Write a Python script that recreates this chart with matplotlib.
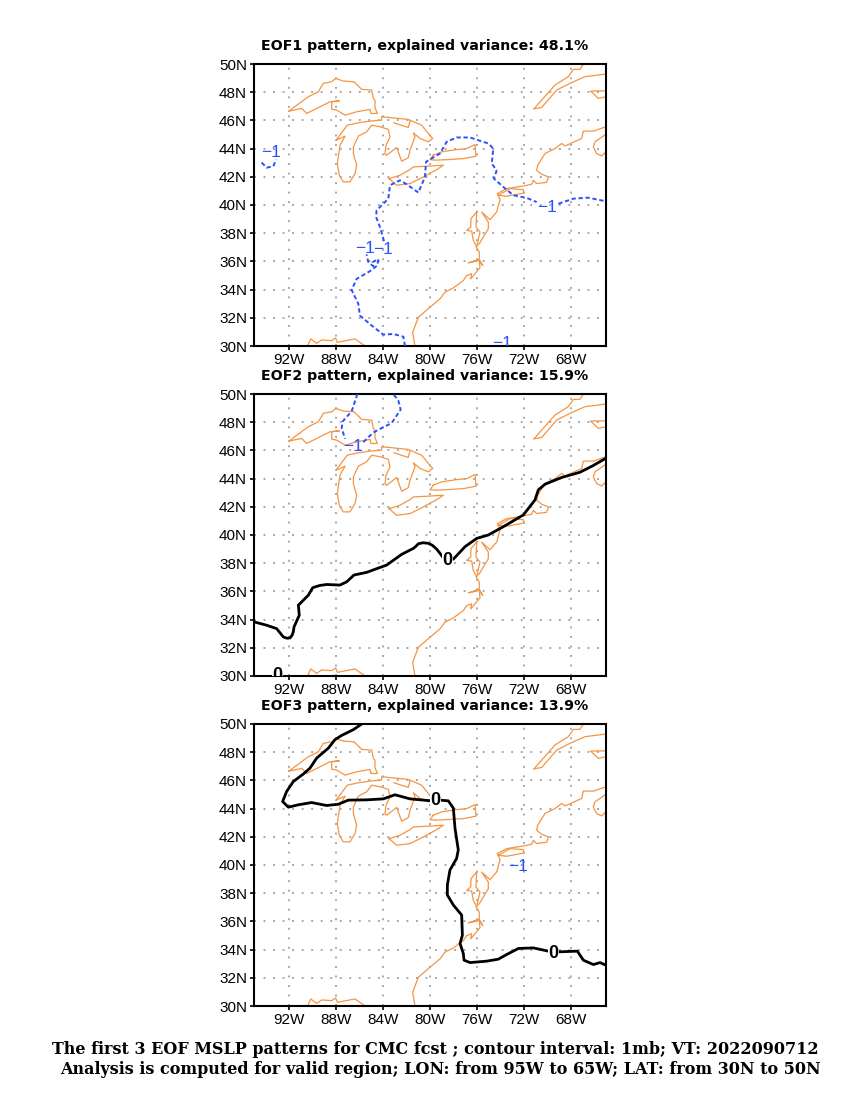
import matplotlib
matplotlib.use("Agg")
import matplotlib.pyplot as plt

superior = [(-92.02, 46.66), (-90.37, 47.68), (-89.52, 48.03), (-89.09, 48.63), (-88.38, 48.74), (-88.04, 48.98),
            (-87.39, 48.79), (-86.48, 48.74), (-85.82, 48.2), (-84.97, 48.15), (-84.83, 47.56), (-84.69, 47.44),
            (-84.69, 46.92), (-84.49, 46.49), (-85.03, 46.49), (-85.11, 46.78), (-86.25, 46.61), (-87.24, 46.37),
            (-87.95, 46.73), (-88.38, 46.8), (-88.38, 47.32), (-87.73, 47.39), (-88.52, 47.32), (-90.51, 46.49),
            (-90.94, 46.85), (-92.02, 46.66)]
michigan_huron = [(-88.01, 44.6), (-87.05, 45.66), (-86.11, 45.83), (-85.11, 45.95), (-84.12, 46.02), (-84.12, 46.26),
                  (-81.85, 46.07), (-80.71, 45.66), (-80.14, 45.07), (-79.77, 44.72), (-80.14, 44.48), (-80.85, 44.72),
                  (-81.42, 45.12), (-81.28, 44.83), (-81.7, 43.89), (-81.85, 43.36), (-82.41, 43.1), (-82.84, 44.08),
                  (-83.69, 43.53), (-83.84, 43.6), (-83.75, 44.24), (-83.41, 44.83), (-83.55, 45.36), (-84.26, 45.55),
                  (-84.97, 45.66), (-85.4, 45.19), (-86.11, 44.88), (-86.53, 44.12), (-86.53, 43.65), (-86.25, 42.82),
                  (-86.39, 42.23), (-86.82, 41.64), (-87.39, 41.64), (-87.73, 42.11), (-87.9, 42.94), (-87.67, 44.24),
                  (-87.24, 44.88), (-88.01, 44.6)]
georgian = [(-83.07, 45.83), (-81.85, 45.5), (-81.7, 45.97)]
ontario = [(-79.72, 43.53), (-79.01, 43.77), (-77.73, 43.93), (-76.87, 44.0), (-76.16, 44.29), (-76.08, 43.46),
           (-77.16, 43.29), (-78.44, 43.22), (-79.57, 43.18), (-80.0, 43.22), (-79.72, 43.53)]
erie = [(-83.49, 41.87), (-82.56, 42.11), (-81.7, 42.51), (-81.42, 42.7), (-80.28, 42.75), (-78.86, 42.82),
        (-79.43, 42.51), (-80.57, 41.99), (-81.7, 41.52), (-82.84, 41.4), (-83.49, 41.87)]
east_coast = [(-81.28, 30.0), (-81.48, 30.97), (-80.99, 32.04), (-80.0, 32.75), (-79.15, 33.34), (-78.72, 33.82),
              (-78.01, 34.12), (-77.16, 34.64), (-76.87, 35.0), (-76.45, 35.12), (-76.53, 34.76), (-75.74, 35.55),
              (-75.8, 36.07), (-76.73, 35.9), (-75.8, 36.11), (-75.51, 35.71), (-75.8, 36.11), (-75.8, 36.66),
              (-76.08, 37.06), (-75.8, 37.25), (-75.03, 38.32), (-75.03, 38.79), (-75.6, 39.5), (-74.89, 38.96),
              (-74.32, 39.5), (-74.03, 40.38), (-74.26, 40.81), (-73.47, 41.16), (-72.05, 41.35), (-71.34, 41.47),
              (-71.19, 41.75), (-70.91, 41.52), (-70.06, 41.61), (-69.91, 41.99), (-70.48, 42.18), (-70.91, 42.46),
              (-70.82, 42.82), (-70.2, 43.65), (-69.35, 44.0), (-68.78, 44.36), (-68.49, 44.19), (-67.07, 44.72),
              (-66.93, 45.24), (-66.08, 45.24), (-65.0, 45.55)]
chesapeake_w = [(-76.02, 39.5), (-76.51, 39.03), (-76.53, 38.44), (-76.87, 38.2), (-76.45, 38.15), (-76.31, 37.49),
                (-76.02, 37.06)]
chesapeake_e = [(-76.02, 39.5), (-76.08, 38.44), (-75.74, 38.08), (-75.97, 37.25)]
long_island = [(-74.18, 40.69), (-73.18, 41.16), (-72.05, 41.09), (-71.99, 40.85), (-73.47, 40.62), (-74.18, 40.69)]
st_lawrence_s = [(-71.14, 46.82), (-70.48, 46.92), (-69.2, 48.15), (-68.07, 48.63), (-66.79, 49.1), (-65.0, 49.29)]
st_lawrence_n = [(-71.14, 46.82), (-69.35, 48.51), (-68.21, 49.1), (-67.78, 49.62), (-67.22, 49.62), (-66.93, 50.0)]
chaleur = [(-65.0, 48.1), (-66.31, 48.08), (-65.65, 47.56), (-65.0, 47.68)]
nova_scotia = [(-65.0, 45.02), (-65.94, 44.48), (-66.08, 44.12), (-65.8, 43.65), (-65.37, 43.48), (-65.0, 43.77)]
gulf_coast = [(-90.43, 30.0), (-90.17, 30.5), (-89.66, 30.19), (-89.23, 30.43), (-88.38, 30.38), (-88.04, 30.57),
              (-87.9, 30.26), (-86.39, 30.5), (-85.54, 30.0)]
coast_lines = [superior, michigan_huron, georgian, ontario, erie, east_coast, chesapeake_w, chesapeake_e, long_island,
               st_lawrence_s, st_lawrence_n, chaleur, nova_scotia, gulf_coast]

eof1_a = [(-82.13, 30.0), (-82.27, 30.66), (-83.12, 30.85), (-83.98, 30.81), (-84.97, 31.45), (-85.97, 32.16),
          (-86.11, 32.99), (-86.68, 33.98), (-86.25, 34.76), (-85.11, 35.31), (-84.49, 35.71), (-84.4, 36.16),
          (-84.89, 35.95), (-84.83, 35.66), (-85.26, 35.95), (-85.4, 36.49)]
eof1_b = [(-83.92, 37.44), (-84.26, 38.44), (-84.6, 39.15), (-84.55, 39.62), (-83.55, 40.45), (-83.41, 41.4),
          (-82.56, 41.75), (-81.99, 41.47), (-80.99, 40.88), (-80.43, 41.99), (-80.34, 43.06), (-79.15, 43.65),
          (-78.58, 44.48), (-77.73, 44.79), (-76.59, 44.79), (-75.03, 44.36), (-74.6, 44.0), (-74.74, 42.94),
          (-74.32, 42.46), (-74.55, 41.87), (-73.75, 41.28), (-72.9, 40.69), (-71.76, 40.5), (-70.91, 40.21)]
eof1_c = [(-69.06, 40.09), (-67.78, 40.45), (-66.51, 40.52), (-65.0, 40.26)]
eof1_d = [(-94.35, 43.01), (-93.92, 42.65), (-93.35, 42.75), (-93.12, 43.22)]
eof2_a = [(-86.19, 50.0), (-86.68, 48.77), (-87.44, 48.06), (-87.53, 47.58), (-87.24, 46.82)]
eof2_b = [(-85.68, 46.59), (-84.83, 47.27), (-84.12, 47.58), (-83.27, 47.94), (-82.5, 48.89), (-82.7, 49.53),
          (-83.12, 50.0)]
eof2_zero = [(-95.0, 33.84), (-93.92, 33.6), (-93.07, 33.36), (-92.8, 33.08), (-92.5, 32.77), (-92.2, 32.68),
             (-91.93, 32.7), (-91.75, 32.9), (-91.65, 33.13), (-91.59, 33.48), (-91.14, 34.31), (-91.22, 35.02),
             (-90.37, 35.73), (-90.0, 36.26), (-89.4, 36.42), (-88.81, 36.49), (-87.67, 36.45), (-87.1, 36.68),
             (-86.48, 37.16), (-85.4, 37.35), (-83.69, 37.87), (-82.41, 38.63), (-81.42, 39.05), (-81.2, 39.2),
             (-80.99, 39.38), (-80.6, 39.45), (-80.14, 39.41), (-79.8, 39.27), (-79.43, 39.0), (-79.1, 38.65),
             (-78.81, 38.3), (-78.01, 38.29), (-77.6, 38.65), (-77.02, 39.17), (-76.02, 39.76), (-75.03, 40.0),
             (-73.75, 40.59), (-72.05, 41.42), (-71.05, 42.49), (-70.77, 43.2), (-70.2, 43.6), (-68.78, 44.08),
             (-67.22, 44.45), (-66.08, 44.93), (-65.0, 45.45)]
eof3_zero = [(-85.82, 50.0), (-86.53, 49.6), (-87.53, 49.19), (-88.1, 48.89), (-88.66, 48.29), (-89.66, 47.58),
             (-90.23, 46.87), (-90.8, 46.45), (-91.65, 45.92), (-92.22, 45.21), (-92.56, 44.5), (-92.07, 44.1),
             (-91.22, 44.27), (-90.09, 44.43), (-88.81, 44.22), (-87.81, 44.31), (-86.96, 44.6), (-85.4, 44.62),
             (-83.98, 44.69), (-82.98, 44.98), (-81.7, 44.69), (-79.86, 44.55), (-79.15, 44.6), (-78.44, 44.55),
             (-78.01, 44.03), (-77.87, 42.61), (-77.59, 41.07), (-77.73, 40.47), (-78.3, 39.64), (-78.52, 38.58),
             (-78.52, 37.87), (-78.01, 37.16), (-77.3, 36.45), (-77.24, 35.02), (-77.44, 34.43), (-77.16, 33.72),
             (-77.1, 33.25), (-76.59, 33.08), (-75.17, 33.18), (-74.18, 33.32), (-73.47, 33.65), (-72.47, 34.08),
             (-71.19, 34.12), (-69.91, 33.89), (-69.06, 33.84), (-67.44, 33.89), (-66.93, 33.25), (-66.08, 32.94),
             (-65.51, 33.08), (-65.0, 32.89)]

titles = ["EOF1 pattern, explained variance: 48.1%",
          "EOF2 pattern, explained variance: 15.9%",
          "EOF3 pattern, explained variance: 13.9%"]
neg_lines = [[eof1_a, eof1_b, eof1_c, eof1_d], [eof2_a, eof2_b], []]
zero_lines = [[], [eof2_zero], [eof3_zero]]
neg_labels = [[(-93.58, 43.7), (-85.54, 36.9), (-83.98, 36.82), (-70.06, 39.79), (-73.85, 30.2)],
              [(-86.53, 46.28)],
              [(-72.47, 39.91)]]
zero_labels = [[], [(-78.52, 38.18), (-93.01, 30.0)], [(-79.52, 44.55), (-69.49, 33.72)]]
lon_ticks = [-92, -88, -84, -80, -76, -72, -68]
lat_ticks = list(range(30, 51, 2))
foot_lines = ["The first 3 EOF MSLP patterns for CMC fcst ; contour interval: 1mb; VT: 2022090712",
              "Analysis is computed for valid region; LON: from 95W to 65W; LAT: from 30N to 50N"]

ORANGE = "#f59443"
BLUE = "#2b50ff"
W, H = 850.0, 1100.0


def draw_panel(ax, i):
    ax.set_xlim(-95, -65)
    ax.set_ylim(30, 50)
    ax.set_xticks(lon_ticks, [f"{-v}W" for v in lon_ticks])
    ax.set_yticks(lat_ticks, [f"{v}N" for v in lat_ticks])
    ax.tick_params(length=3, width=1.2, labelsize=11, pad=2, top=False, right=False)
    for lab in ax.get_xticklabels() + ax.get_yticklabels():
        lab.set_family("Liberation Sans")
    ax.grid(True, color="#a8a8a8", linewidth=1.4, linestyle=(0, (1.0, 3.9)))
    ax.set_axisbelow(True)
    for s in ax.spines.values():
        s.set_linewidth(1.5)

    for line in coast_lines:
        ax.plot(*zip(*line), color=ORANGE, lw=0.9, zorder=2)
    for line in neg_lines[i]:
        ax.plot(*zip(*line), color=BLUE, lw=1.4, linestyle=(0, (2.2, 1.4)), zorder=3)
    for line in zero_lines[i]:
        ax.plot(*zip(*line), color="black", lw=2.0, zorder=4)
    for x, y in neg_labels[i]:
        ax.text(x, y, "\u22121", color=BLUE, fontsize=12.5, family="Liberation Sans", ha="center", va="center",
                zorder=5, clip_on=True)
    for x, y in zero_labels[i]:
        ax.text(x, y, "0", color="black", fontsize=13, family="Liberation Sans", fontweight="bold", ha="center",
                va="center", zorder=5, clip_on=True,
                bbox=dict(facecolor="white", edgecolor="none", pad=0.2))

    ax.set_title(titles[i], x=0.486, fontsize=10.2, family="DejaVu Sans", fontweight="bold", pad=10)


fig = plt.figure(figsize=(8.5, 11), dpi=100)
tops = [64, 394, 724]
for n, top in enumerate(tops):
    ax = fig.add_axes([254 / W, 1 - (top + 282) / H, 352 / W, 282 / H])
    draw_panel(ax, n)

fig.text(435.5 / W, 1 - 1050 / H, foot_lines[0], ha="center", va="center", family="DejaVu Serif", fontweight="bold",
         fontsize=11.5)
fig.text(440 / W, 1 - 1070 / H, foot_lines[1], ha="center", va="center", family="DejaVu Serif", fontweight="bold",
         fontsize=11.5)

fig.savefig("out.png", dpi=100)
